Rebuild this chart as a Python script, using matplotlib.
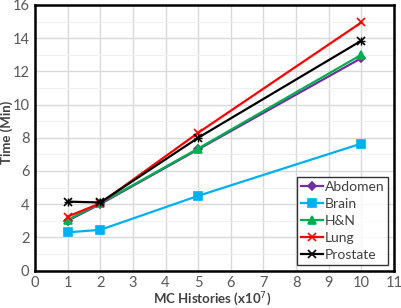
import matplotlib
matplotlib.use('Agg')
import matplotlib.pyplot as plt
from matplotlib.ticker import MultipleLocator

plt.rcParams['font.family'] = ['Lato', 'DejaVu Sans']

histories = [1, 2, 5, 10]
abdomen = [3.0, 4.0, 7.3, 12.8]
brain = [2.3, 2.45, 4.5, 7.65]
hn = [3.05, 4.05, 7.35, 13.0]
lung = [3.25, 4.05, 8.3, 14.95]
prostate = [4.15, 4.1, 8.0, 13.85]

series = [
    ('Abdomen', abdomen, '#7030a0', 'D', 4),
    ('Brain', brain, '#00b0f0', 's', 6),
    ('H&N', hn, '#00b050', '^', 6),
    ('Lung', lung, '#ff0000', 'x', 6),
    ('Prostate', prostate, '#000000', 'x', 6),
]

fig = plt.figure(figsize=(4.02, 3.08), dpi=100)
ax = fig.add_axes([35/402, 1 - 270.5/308, 359/402, 265.5/308])

for name, vals, col, mk, ms in series:
    ax.plot(histories, vals, color=col, marker=mk, markersize=ms, linewidth=1.6,
            markeredgewidth=1.2, label=name)
# prostate marker looks like a star: add a plus on top of the cross
ax.plot(histories, prostate, color='#000000', marker='+', markersize=6, linewidth=0,
        markeredgewidth=1.0)

ax.set_xlim(0, 11)
ax.set_ylim(0, 16)
ax.xaxis.set_major_locator(MultipleLocator(1))
ax.yaxis.set_major_locator(MultipleLocator(2))
ax.yaxis.set_minor_locator(MultipleLocator(1))
ax.grid(which='major', color='#d9d9d9', linewidth=1.0)
ax.grid(which='minor', axis='y', color='#efefef', linewidth=0.8)
ax.set_axisbelow(True)
ax.tick_params(which='both', length=0, labelsize=10.5, labelcolor='#595959')
ax.tick_params(axis='x', pad=4)
ax.tick_params(axis='y', pad=4)
for s in ax.spines.values():
    s.set_linewidth(1.8)
    s.set_color('black')

ax.set_xlabel('MC Histories (x10$^{7}$)', fontsize=9.5, fontweight='bold', color='#404040')
ax.set_ylabel('Time (Min)', fontsize=9.5, fontweight='bold', color='#404040')
ax.xaxis.set_label_coords(177/359, -20/265.5)
ax.yaxis.set_label_coords(-22.5/359, 0.52)

leg = ax.legend(loc='lower right', fontsize=10, frameon=True, fancybox=False,
                edgecolor='black', handlelength=1.6, handletextpad=0.1,
                borderpad=0.3, labelspacing=0.36, borderaxespad=0.4)
leg.get_frame().set_linewidth(1.0)
for t in leg.get_texts():
    t.set_color('#404040')

fig.savefig('out.png', dpi=100)
